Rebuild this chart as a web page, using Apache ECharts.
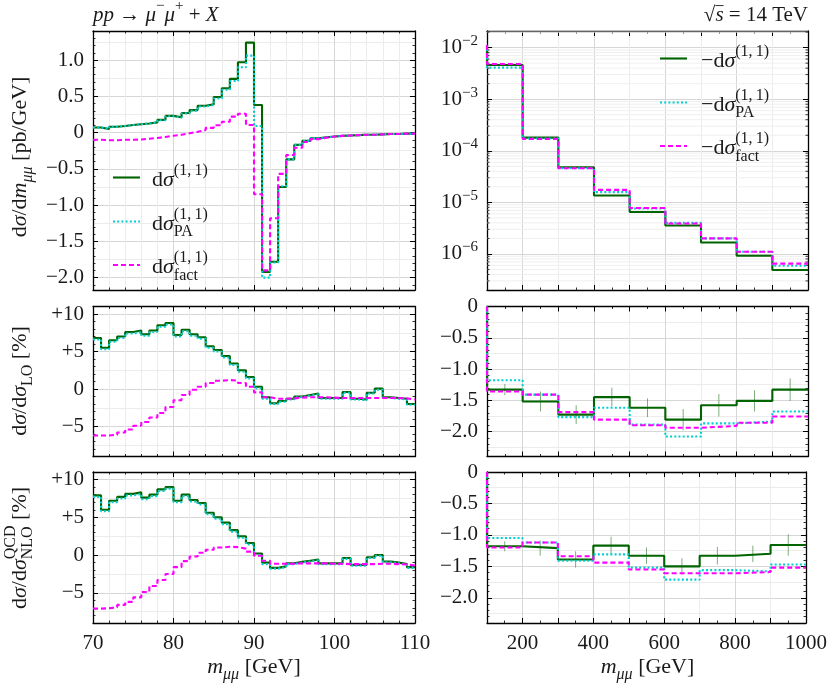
<!DOCTYPE html>
<html>
<head>
<meta charset="utf-8">
<script src="https://cdn.jsdelivr.net/npm/echarts@6/dist/echarts.min.js"></script>
<style>
html,body{margin:0;padding:0;background:#fff}
#chart{width:830px;height:684px}
</style>
</head>
<body>
<div id="chart"></div>
<script>
const F = '"Liberation Serif","DejaVu Serif",serif';
const ink = '#1a1a1a';
const cGreen = '#006400', cCyan = '#00CED1', cMag = '#FF00FF';

// bin edges (GeV)
const lowEdges = [70,71,72,73,74,75,76,77,78,79,80,81,82,83,84,85,86,87,88,89,90,
  91,92,93,94,95,96,97,98,99,100,101,102,103,104,105,106,107,108,109,110];
const highEdges = [100,200,300,400,500,600,700,800,900,1000];
const highCenters = [150,250,350,450,550,650,750,850,950];

// top left: dsigma/dm [pb/GeV]
const lowXs = [0.07,0.05,0.08,0.09,0.105,0.115,0.125,0.14,0.175,0.23,
  0.21,0.27,0.31,0.37,0.39,0.49,0.61,0.74,0.97,1.24,
  0.38,-1.92,-1.78,-0.75,-0.37,-0.17,-0.115,-0.08,-0.065,-0.055,
  -0.045,-0.04,-0.035,-0.03,-0.03,-0.025,-0.02,-0.02,-0.015,-0.015];
const lowXsPA = [0.07,0.05,0.08,0.09,0.105,0.115,0.125,0.14,0.17,0.225,
  0.205,0.265,0.30,0.36,0.38,0.47,0.59,0.71,0.90,1.06,
  0.09,-2.0,-1.79,-0.74,-0.37,-0.17,-0.115,-0.08,-0.065,-0.055,
  -0.045,-0.04,-0.035,-0.03,-0.03,-0.025,-0.02,-0.02,-0.015,-0.015];
const lowXsFact = [-0.10,-0.105,-0.105,-0.10,-0.10,-0.095,-0.085,-0.075,-0.06,-0.045,
  -0.03,-0.01,0.01,0.035,0.065,0.10,0.15,0.22,0.26,0.105,
  -0.85,-1.90,-1.18,-0.57,-0.31,-0.21,-0.13,-0.09,-0.07,-0.055,
  -0.045,-0.04,-0.035,-0.03,-0.03,-0.025,-0.02,-0.02,-0.015,-0.015];

// middle left: ratio to LO [%]
const lowLo = [6.8,5.5,6.5,7.0,7.6,7.8,7.3,7.8,8.5,8.8,
  7.2,7.9,7.3,6.9,5.7,5.2,4.4,3.4,2.5,1.6,
  0.3,-1.1,-1.9,-1.6,-1.3,-1.0,-0.8,-0.6,-1.2,-1.2,
  -1.2,-0.4,-1.3,-1.4,-0.5,0.05,-1.1,-1.2,-1.3,-2.0];
const lowLoPA = [6.6,5.3,6.3,6.8,7.4,7.6,7.1,7.6,8.3,8.6,
  7.0,7.7,7.1,6.7,5.5,5.0,4.2,3.2,2.3,1.4,
  0.1,-1.3,-2.0,-1.7,-1.4,-1.1,-0.9,-0.7,-1.3,-1.3,
  -1.3,-0.5,-1.4,-1.5,-0.6,-0.1,-1.2,-1.3,-1.4,-2.1];
const lowLoFact = [-6.2,-6.2,-6.1,-5.8,-5.4,-4.9,-4.4,-3.8,-3.2,-2.4,
  -1.5,-0.8,-0.1,0.3,0.8,1.1,1.2,1.1,0.8,0.3,
  -0.45,-1.1,-1.3,-1.3,-1.25,-1.15,-1.1,-1.1,-1.1,-1.15,
  -1.2,-1.2,-1.2,-1.2,-1.2,-1.2,-1.2,-1.2,-1.25,-1.4];

// bottom left: ratio to NLO QCD [%]
const lowNlo = [7.9,6.0,7.2,7.7,8.1,8.3,7.6,8.0,8.7,9.0,
  7.2,8.0,7.3,6.9,5.6,5.0,4.3,3.3,2.5,1.6,
  0.2,-1.0,-1.7,-1.5,-1.1,-0.9,-0.75,-0.6,-1.1,-1.1,
  -1.1,-0.4,-1.3,-1.3,-0.3,0.0,-0.85,-1.0,-1.2,-1.6];
const lowNloPA = [7.7,5.8,7.0,7.5,7.9,8.1,7.4,7.8,8.5,8.8,
  7.0,7.8,7.1,6.7,5.4,4.8,4.1,3.1,2.3,1.4,
  0.0,-1.2,-1.8,-1.6,-1.2,-1.0,-0.85,-0.7,-1.2,-1.2,
  -1.2,-0.5,-1.4,-1.4,-0.4,-0.1,-0.95,-1.1,-1.3,-1.7];
const lowNloFact = [-7.1,-7.05,-6.9,-6.6,-6.2,-5.6,-4.9,-4.1,-3.3,-2.5,
  -1.6,-0.8,-0.2,0.3,0.7,1.0,1.1,1.05,0.85,0.45,
  -0.1,-0.75,-1.15,-1.15,-1.15,-1.1,-1.1,-1.1,-1.1,-1.15,
  -1.15,-1.2,-1.2,-1.2,-1.2,-1.15,-1.15,-1.2,-1.25,-1.4];

// top right: -dsigma/dm [pb/GeV]
const highStartXs = 0.0113;
const highXs = [4.6e-3,1.8e-4,4.8e-5,1.36e-5,6.5e-6,3.56e-6,1.67e-6,9.2e-7,4.9e-7];
const highXsPA = [4.1e-3,1.73e-4,4.6e-5,1.58e-5,7.6e-6,4.0e-6,2.0e-6,1.1e-6,5.9e-7];
const highXsFact = [4.8e-3,1.7e-4,4.6e-5,1.75e-5,7.8e-6,3.9e-6,2.0e-6,1.1e-6,6.5e-7];

// middle right: ratio to LO [%]
const highLo = [-1.33,-1.52,-1.73,-1.45,-1.62,-1.81,-1.58,-1.51,-1.33];
const highLoErr = [0.09,0.16,0.15,0.15,0.15,0.17,0.18,0.17,0.18];
const highLoPA = [-1.18,-1.41,-1.77,-1.62,-1.89,-2.08,-1.87,-1.84,-1.68];
const highLoFact = [-1.36,-1.41,-1.69,-1.81,-1.90,-1.94,-1.91,-1.86,-1.76];

// bottom right: ratio to NLO QCD [%]
const highNlo = [-1.18,-1.21,-1.39,-1.17,-1.33,-1.50,-1.33,-1.30,-1.16];
const highNloErr = [0.08,0.12,0.13,0.14,0.13,0.13,0.14,0.13,0.17];
const highNloPA = [-1.05,-1.12,-1.41,-1.31,-1.52,-1.71,-1.56,-1.58,-1.47];
const highNloFact = [-1.20,-1.12,-1.34,-1.44,-1.55,-1.61,-1.61,-1.59,-1.52];

// ---------- helpers ----------
const ctx = document.createElement('canvas').getContext('2d');
function tw(t, size, italic) {
  ctx.font = (italic ? 'italic ' : '') + size + 'px ' + F;
  return ctx.measureText(t).width;
}
// sequential math-like text, sup/sub stacked when both given
function mathText(x, y, items, opt) {
  const base = opt.size, small = opt.small || Math.round(base * 0.74);
  const children = [];
  let cx = 0;
  items.forEach(it => {
    const parts = [];
    if (it.t != null) parts.push({t: it.t, s: base, i: it.i, dy: 0});
    if (it.sup != null) parts.push({t: it.sup, s: small, i: it.supI, dy: -base * 0.42});
    if (it.sub != null) parts.push({t: it.sub, s: small, i: it.subI, dy: base * 0.36});
    let w = 0;
    parts.forEach(p => {
      children.push({type: 'text', x: cx, y: p.dy, z: 100, style: {
        text: p.t, font: (p.i ? 'italic ' : '') + p.s + 'px ' + F, fill: ink,
        align: 'left', verticalAlign: 'middle', textAlign: 'left', textVerticalAlign: 'middle'}});
      w = Math.max(w, tw(p.t, p.s, p.i));
    });
    if (it.over) children.push({type: 'line', z: 100, shape: {x1: cx, y1: -base * 0.45, x2: cx + w, y2: -base * 0.45},
      style: {stroke: ink, lineWidth: 0.9}});
    cx += w;
  });
  const shift = opt.align === 'center' ? -cx / 2 : opt.align === 'right' ? -cx : 0;
  children.forEach(c => {
    if (c.type === 'text') c.x += shift;
    else { c.shape.x1 += shift; c.shape.x2 += shift; }
  });
  return {type: 'group', x: x, y: y, z: 100, rotation: opt.rot || 0, silent: true, children: children};
}
function steps(edges, vals, start) {
  const pts = [];
  if (start !== undefined) pts.push([edges[0], start]);
  vals.forEach((v, i) => pts.push([edges[i], v]));
  pts.push([edges[edges.length - 1], vals[vals.length - 1]]);
  return pts;
}

const fmtDec = v => Math.abs(v) < 1e-9 ? '0' : (v < 0 ? '\u2212' : '') + Math.abs(v).toFixed(1);
const fmtPct = v => Math.abs(v) < 1e-9 ? '0' : (v > 0 ? '+' + v : '\u2212' + (-v));
const fmtLog = v => '{b|10}{s|\u2212' + Math.round(-Math.log10(v)) + '}';
const fmtHighX = v => (v % 200 === 0) ? String(v) : '';

const grids = [
  {left: 93, top: 31, width: 322, height: 259},
  {left: 487, top: 31, width: 321, height: 259},
  {left: 93, top: 306.5, width: 322, height: 150},
  {left: 487, top: 306.5, width: 321, height: 150},
  {left: 93, top: 472, width: 322, height: 151},
  {left: 487, top: 472, width: 321, height: 151}
];

const majorGrid = '#d6d6d6', minorGrid = '#ececec';
const axLine = {show: true, onZero: false, lineStyle: {color: '#000', width: 1.3}};
const axTick = {show: true, inside: true, length: 5, lineStyle: {color: '#000', width: 1}};
const mTick = n => ({show: true, splitNumber: n, length: 2.5, lineStyle: {color: '#000', width: 0.8}});
const labelStyle = {fontFamily: F, fontSize: 21, color: ink};

const xAxis = [], yAxis = [], axIdx = [];
function addPanel(g, xc, yc) {
  const xi = xAxis.length;
  xAxis.push({type: 'value', gridIndex: g, position: 'bottom', min: xc.min, max: xc.max, interval: xc.interval,
    axisLine: axLine, axisTick: axTick, minorTick: mTick(xc.minor),
    axisLabel: xc.labels ? Object.assign({show: true, margin: 10, formatter: xc.fmt}, labelStyle) : {show: false},
    splitLine: {show: true, lineStyle: {color: xc.gridColor || majorGrid, width: 1}},
    minorSplitLine: {show: !!xc.minorGrid, lineStyle: {color: minorGrid, width: 1}}});
  xAxis.push({type: 'value', gridIndex: g, position: 'top', min: xc.min, max: xc.max, interval: xc.interval,
    axisLine: axLine, axisTick: axTick, minorTick: mTick(xc.minor), axisLabel: {show: false},
    splitLine: {show: false}});
  const yi = yAxis.length;
  const common = {type: yc.type || 'value', gridIndex: g, min: yc.min, max: yc.max};
  if (yc.type !== 'log') { common.minInterval = yc.major; common.maxInterval = yc.major; common.splitNumber = 20; }
  // half-step grid lines (drawn first, underneath)
  yAxis.push(Object.assign({}, common, {position: 'left', axisLine: {show: false}, axisTick: {show: false},
    axisLabel: {show: false}, minInterval: yc.half, maxInterval: yc.half,
    splitLine: {show: !!yc.half, lineStyle: {color: minorGrid, width: 1}}}));
  yAxis.push(Object.assign({}, common, {position: 'left', axisLine: axLine, axisTick: axTick,
    minorTick: yc.minor ? mTick(yc.minor) : {show: false},
    axisLabel: Object.assign({show: true, margin: 9, formatter: yc.fmt,
      showMinLabel: yc.showMin, showMaxLabel: yc.showMax, rich: yc.rich}, labelStyle),
    splitLine: {show: true, lineStyle: {color: majorGrid, width: 1}}}));
  yAxis.push(Object.assign({}, common, {position: 'right', axisLine: axLine, axisTick: axTick,
    minorTick: yc.minor ? mTick(yc.minor) : {show: false}, axisLabel: {show: false}, splitLine: {show: false}}));
  axIdx[g] = {x: xi, y: yi + 1};
}

const lowX = {min: 70, max: 110, interval: 10, minor: 5, minorGrid: true, fmt: v => String(v)};
const highX = {min: 100, max: 1000, interval: 100, minor: 2, fmt: fmtHighX, gridColor: ['#ececec', '#d6d6d6']};
const logRich = {b: {fontFamily: F, fontSize: 21, color: ink, lineHeight: 28},
  s: {fontFamily: F, fontSize: 15, color: ink, lineHeight: 13, verticalAlign: 'top'}};

addPanel(0, lowX, {min: -2.17, max: 1.40, major: 0.5, half: 0.25, minor: 5, fmt: fmtDec, showMin: false, showMax: false});
addPanel(1, highX, {type: 'log', min: 2e-7, max: 0.021, fmt: fmtLog, rich: logRich, showMin: false, showMax: false});
addPanel(2, lowX, {min: -9, max: 11, major: 5, half: 2.5, minor: 5, fmt: fmtPct, showMin: false, showMax: false});
addPanel(3, highX, {min: -2.4, max: 0, major: 0.5, half: 0.25, minor: 5, fmt: fmtDec, showMin: false, showMax: true});
addPanel(4, Object.assign({}, lowX, {labels: true}), {min: -9, max: 11, major: 5, half: 2.5, minor: 5, fmt: fmtPct, showMin: false, showMax: false});
addPanel(5, Object.assign({}, highX, {labels: true}), {min: -2.4, max: 0, major: 0.5, half: 0.25, minor: 5, fmt: fmtDec, showMin: false, showMax: true});

const series = [];
function histo(g, data, color, dash) {
  series.push({type: 'line', step: 'end', xAxisIndex: axIdx[g].x, yAxisIndex: axIdx[g].y, data: data,
    symbol: 'none', showSymbol: false, silent: true, z: 5, clip: true,
    lineStyle: {color: color, width: 2.1, type: dash || 'solid', cap: 'butt'}});
}
function errBars(g, centers, vals, errs) {
  series.push({type: 'custom', xAxisIndex: axIdx[g].x, yAxisIndex: axIdx[g].y, silent: true, z: 4, clip: true,
    data: centers.map((c, i) => [c, vals[i], errs[i]]),
    renderItem: (params, api) => {
      const a = api.coord([api.value(0), api.value(1) - api.value(2)]);
      const b = api.coord([api.value(0), api.value(1) + api.value(2)]);
      return {type: 'line', shape: {x1: a[0], y1: a[1], x2: b[0], y2: b[1]},
        style: {stroke: 'rgba(40,120,40,0.6)', lineWidth: 1}};
    }});
}
const dotted = [2, 2.2], dashed = [5, 3];

// log-axis minor grid and ticks at 2..9 x 10^n
const logMinor = [];
for (let e = -7; e <= -2; e++) for (let k = 2; k <= 9; k++) {
  const v = k * Math.pow(10, e);
  if (v > 2e-7 && v < 0.021) logMinor.push([100, v]);
}
series.push({type: 'custom', xAxisIndex: axIdx[1].x, yAxisIndex: axIdx[1].y, silent: true, z: 1, data: logMinor,
  renderItem: (params, api) => {
    const cs = params.coordSys;
    const y = api.coord([100, api.value(1)])[1];
    return {type: 'group', children: [
      {type: 'line', shape: {x1: cs.x, y1: y, x2: cs.x + cs.width, y2: y}, style: {stroke: '#efefef', lineWidth: 1}},
      {type: 'line', shape: {x1: cs.x, y1: y, x2: cs.x + 2.5, y2: y}, style: {stroke: '#000', lineWidth: 0.8}},
      {type: 'line', shape: {x1: cs.x + cs.width - 2.5, y1: y, x2: cs.x + cs.width, y2: y}, style: {stroke: '#000', lineWidth: 0.8}}
    ]};
  }});

histo(0, steps(lowEdges, lowXs), cGreen);
histo(0, steps(lowEdges, lowXsPA), cCyan, dotted);
histo(0, steps(lowEdges, lowXsFact), cMag, dashed);
histo(1, steps(highEdges, highXs, highStartXs), cGreen);
histo(1, steps(highEdges, highXsPA, highStartXs), cCyan, dotted);
histo(1, steps(highEdges, highXsFact, highStartXs), cMag, dashed);
histo(2, steps(lowEdges, lowLo), cGreen);
histo(2, steps(lowEdges, lowLoPA), cCyan, dotted);
histo(2, steps(lowEdges, lowLoFact), cMag, dashed);
errBars(3, highCenters, highLo, highLoErr);
histo(3, steps(highEdges, highLo, 0), cGreen);
histo(3, steps(highEdges, highLoPA, 0), cCyan, dotted);
histo(3, steps(highEdges, highLoFact, 0), cMag, dashed);
histo(4, steps(lowEdges, lowNlo), cGreen);
histo(4, steps(lowEdges, lowNloPA), cCyan, dotted);
histo(4, steps(lowEdges, lowNloFact), cMag, dashed);
errBars(5, highCenters, highNlo, highNloErr);
histo(5, steps(highEdges, highNlo, 0), cGreen);
histo(5, steps(highEdges, highNloPA, 0), cCyan, dotted);
histo(5, steps(highEdges, highNloFact, 0), cMag, dashed);

// ---------- texts and legends ----------
const sig = [{t: 'd'}, {t: '\u03c3', i: true}];
const sup11 = '(1,\u20091)';
const graphic = [];
function legendLine(x, y, color, dash) {
  graphic.push({type: 'line', silent: true, z: 100, shape: {x1: x, y1: y, x2: x + 27, y2: y},
    style: {stroke: color, lineWidth: 2.1, lineDash: dash || null}});
}
const lg = {size: 22, small: 16};
legendLine(113, 177.5, cGreen);
legendLine(113, 221.5, cCyan, dotted);
legendLine(113, 265, cMag, dashed);
graphic.push(mathText(152, 180, sig.concat([{sup: sup11}]), lg));
graphic.push(mathText(152, 224, sig.concat([{sup: sup11, sub: 'PA'}]), lg));
graphic.push(mathText(152, 267.5, sig.concat([{sup: sup11, sub: 'fact'}]), lg));

legendLine(660, 58.5, cGreen);
legendLine(660, 102.5, cCyan, dotted);
legendLine(660, 146, cMag, dashed);
const msig = [{t: '\u2212d'}, {t: '\u03c3', i: true}];
graphic.push(mathText(701, 61, msig.concat([{sup: sup11}]), lg));
graphic.push(mathText(701, 105, msig.concat([{sup: sup11, sub: 'PA'}]), lg));
graphic.push(mathText(701, 148.5, msig.concat([{sup: sup11, sub: 'fact'}]), lg));

graphic.push(mathText(93, 15, [{t: 'pp', i: true}, {t: ' \u2192 '}, {t: '\u03bc', i: true}, {sup: '\u2212'},
  {t: '\u03bc', i: true}, {sup: '+'}, {t: ' + '}, {t: 'X', i: true}], {size: 21, small: 15}));
graphic.push(mathText(808, 15, [{t: '\u221a'}, {t: 's', i: true, over: true}, {t: ' = 14 TeV'}], {size: 21, align: 'right'}));

const xName = [{t: 'm', i: true}, {sub: '\u03bc\u03bc', subI: true}, {t: ' [GeV]'}];
graphic.push(mathText(254, 667, xName, {size: 22, small: 16, align: 'center'}));
graphic.push(mathText(647.5, 667, xName, {size: 22, small: 16, align: 'center'}));

const rot = Math.PI / 2;
const yl = {size: 22, small: 16, align: 'center', rot: rot};
graphic.push(mathText(20, 157, sig.concat([{t: '/d'}, {t: 'm', i: true}, {sub: '\u03bc\u03bc', subI: true}, {t: ' [pb/GeV]'}]), yl));
graphic.push(mathText(20, 381, sig.concat([{t: '/d'}, {t: '\u03c3', i: true}, {sub: 'LO'}, {t: ' [%]'}]), yl));
graphic.push(mathText(20, 548, sig.concat([{t: '/d'}, {t: '\u03c3', i: true}, {sup: 'QCD', sub: 'NLO'}, {t: ' [%]'}]), yl));

const chart = echarts.init(document.getElementById('chart'));
chart.setOption({
  animation: false,
  backgroundColor: '#fff',
  grid: grids,
  xAxis: xAxis,
  yAxis: yAxis,
  series: series,
  graphic: graphic
});
</script>
</body>
</html>
